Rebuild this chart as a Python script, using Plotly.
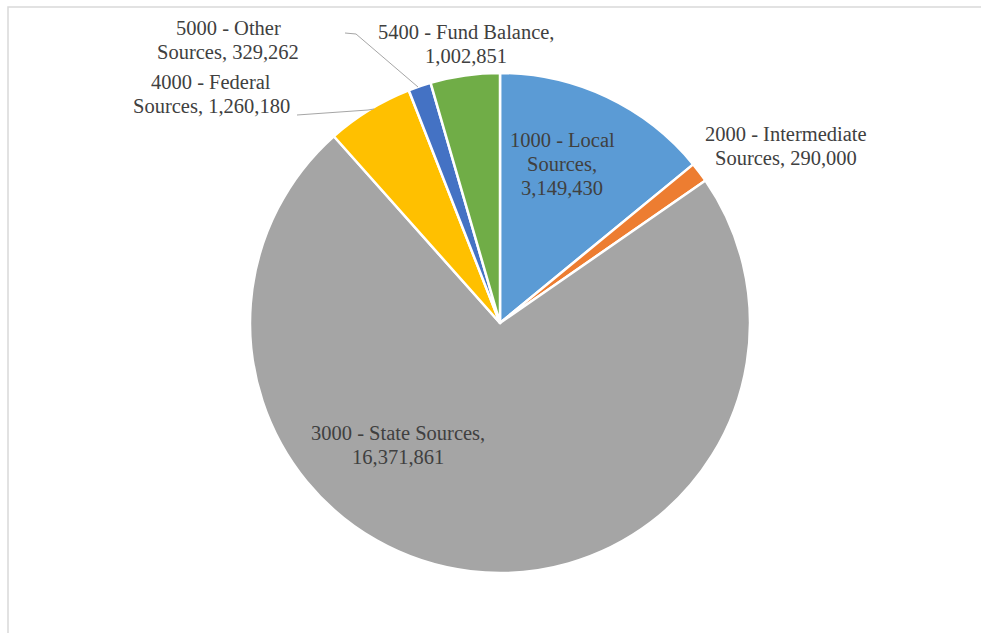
import plotly.graph_objects as go

# Revenue sources and amounts
categories = ["1000 - Local Sources", "2000 - Intermediate Sources", "3000 - State Sources",
              "4000 - Federal Sources", "5000 - Other Sources", "5400 - Fund Balance"]
values = [3149430, 290000, 16371861, 1260180, 329262, 1002851]
colors = ["#5B9BD5", "#ED7D31", "#A5A5A5", "#FFC000", "#4472C4", "#70AD47"]

# How each label wraps onto lines
label_lines = [
    ["1000 - Local", "Sources,", "{v}"],
    ["2000 - Intermediate", "Sources, {v}"],
    ["3000 - State Sources,", "{v}"],
    ["4000 - Federal", "Sources, {v}"],
    ["5000 - Other", "Sources, {v}"],
    ["5400 - Fund Balance,", "{v}"],
]

W, H = 981, 633
FONT = "Liberation Serif, Times New Roman, serif"
FONT_SIZE = 20.5
LINE_STEP = 24  # px between label lines


def px(x):
    return x / W


def py(y):
    return 1 - y / H


fig = go.Figure(go.Pie(
    labels=categories,
    values=values,
    sort=False,
    direction="clockwise",
    rotation=0,
    marker=dict(colors=colors, line=dict(color="white", width=2.5)),
    textinfo="none",
    hoverinfo="label+value",
    domain=dict(x=[px(250), px(750)], y=[py(573), py(73)]),
))

# centre x and first-line y of each label, in pixels
label_pos = [(562, 140), (786, 134), (398, 433), (211, 82), (228, 28), (466, 32)]
annotations = []
for lines, v, (x, y0) in zip(label_lines, values, label_pos):
    for i, line in enumerate(lines):
        annotations.append(dict(
            x=px(x), y=py(y0 + i * LINE_STEP), xref="paper", yref="paper",
            text=line.replace("{v}", f"{v:,}"),
            showarrow=False, xanchor="center", yanchor="middle", align="center",
            font=dict(family=FONT, size=FONT_SIZE, color="#404040"),
        ))

shapes = [
    # chart frame
    dict(type="rect", xref="paper", yref="paper", x0=px(8), x1=px(1000), y0=py(660), y1=py(7),
         line=dict(color="#D9D9D9", width=1.5), fillcolor="rgba(0,0,0,0)", layer="below"),
    # leader lines
    dict(type="path", xref="paper", yref="paper",
         path=f"M {px(297)} {py(115)} L {px(368)} {py(110)} L {px(374)} {py(109)}",
         line=dict(color="#A6A6A6", width=1)),
    dict(type="path", xref="paper", yref="paper",
         path=f"M {px(345)} {py(33)} L {px(356)} {py(34)} L {px(418)} {py(87)}",
         line=dict(color="#A6A6A6", width=1)),
]

fig.update_layout(
    width=W, height=H,
    margin=dict(l=0, r=0, t=0, b=0),
    paper_bgcolor="white",
    showlegend=False,
    annotations=annotations,
    shapes=shapes,
)

fig.write_html("out.html")
